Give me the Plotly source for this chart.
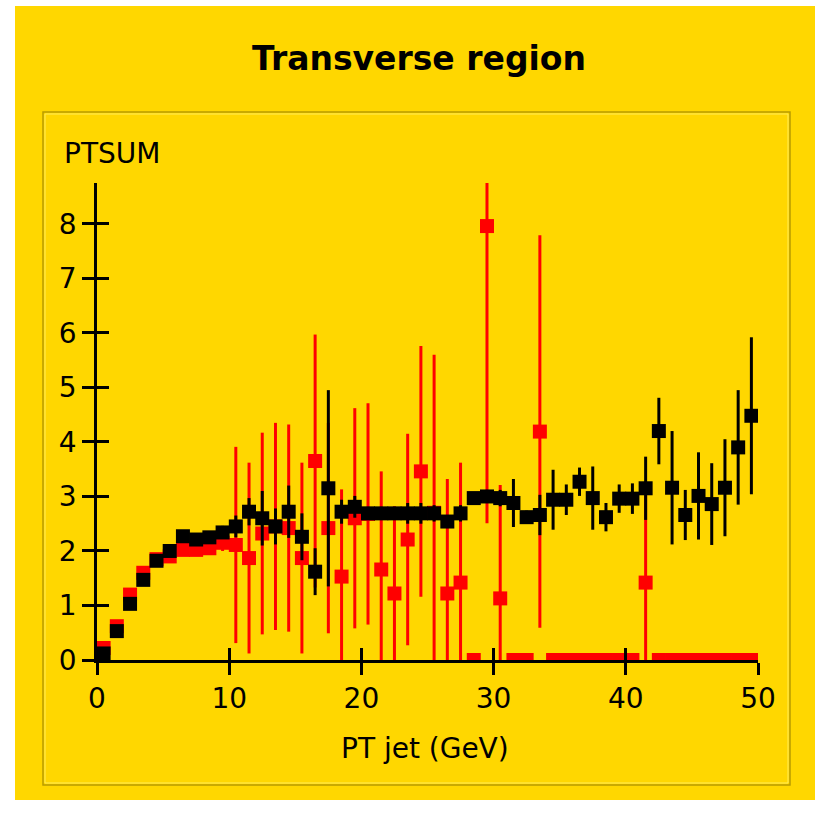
import plotly.graph_objects as go

# ---------------- data ----------------
pt_bins = [0.5, 1.5, 2.5, 3.5, 4.5, 5.5, 6.5, 7.5, 8.5, 9.5,
           10.5, 11.5, 12.5, 13.5, 14.5, 15.5, 16.5, 17.5, 18.5, 19.5,
           20.5, 21.5, 22.5, 23.5, 24.5, 25.5, 26.5, 27.5, 28.5, 29.5,
           30.5, 31.5, 32.5, 33.5, 34.5, 35.5, 36.5, 37.5, 38.5, 39.5,
           40.5, 41.5, 42.5, 43.5, 44.5, 45.5, 46.5, 47.5, 48.5, 49.5]

black_vals = [0.12, 0.53, 1.03, 1.47, 1.82, 2.00, 2.27, 2.21, 2.25, 2.34,
              2.45, 2.72, 2.60, 2.45, 2.72, 2.26, 1.62, 3.15, 2.72, 2.81,
              2.69, 2.69, 2.69, 2.69, 2.69, 2.69, 2.54, 2.69, 2.97, 3.00,
              2.97, 2.88, 2.62, 2.66, 2.94, 2.94, 3.27, 2.97, 2.62, 2.96,
              2.96, 3.15, 4.20, 3.16, 2.66, 3.01, 2.86, 3.16, 3.90, 4.48]

black_errs = [0.05, 0.05, 0.06, 0.06, 0.07, 0.08, 0.10, 0.10, 0.10, 0.12,
              0.20, 0.25, 0.50, 0.33, 0.48, 0.43, 0.43, 1.80, 0.22, 0.20,
              0.12, 0.12, 0.12, 0.19, 0.19, 0.15, 0.12, 0.15, 0.10, 0.12,
              0.15, 0.44, 0.12, 0.37, 0.55, 0.28, 0.26, 0.58, 0.26, 0.26,
              0.28, 0.58, 0.61, 1.04, 0.46, 0.80, 0.75, 0.89, 1.05, 1.44]

red_vals = [0.22, 0.62, 1.20, 1.60, 1.85, 1.90, 2.02, 2.02, 2.05, 2.15,
            2.11, 1.87, 2.32, 2.45, 2.42, 1.87, 3.65, 2.42, 1.53, 2.60,
            2.68, 1.66, 1.22, 2.21, 3.46, 2.70, 1.22, 1.42, 0.00, 7.96,
            1.13, 0.00, 0.00, 4.19, 0.00, 0.00, 0.00, 0.00, 0.00, 0.00,
            0.00, 1.42, 0.00, 0.00, 0.00, 0.00, 0.00, 0.00, 0.00, 0.00]

red_errs = [0.05, 0.06, 0.07, 0.08, 0.09, 0.10, 0.10, 0.10, 0.12, 0.15,
            1.80, 1.75, 1.85, 1.90, 1.90, 1.75, 2.32, 1.93, 1.60, 2.02,
            2.03, 1.80, 1.60, 1.94, 2.30, 2.90, 2.10, 2.20, 0.00, 5.45,
            2.08, 0.00, 0.00, 3.60, 0.00, 0.00, 0.00, 0.00, 0.00, 0.00,
            0.00, 1.60, 0.00, 0.00, 0.00, 0.00, 0.00, 0.00, 0.00, 0.00]

x_ticks = [0, 10, 20, 30, 40, 50]
y_ticks = [0, 1, 2, 3, 4, 5, 6, 7, 8]

title_text = "Transverse region"
x_title = "PT jet (GeV)"
y_title = "PTSUM"

# ---------------- geometry (pixels) ----------------
W, H = 820, 814
L, R, T, B = 97, 62, 183, 154
PW, PH = W - L - R, H - T - B


def px(xp):
    return (xp - L) / PW


def py(yp):
    return (H - B - yp) / PH


GOLD = "#FFD700"
FONT = "DejaVu Sans"

fig = go.Figure()

# red series on the base axes (drawn first, underneath)
fig.add_trace(go.Scatter(
    x=pt_bins, y=red_vals, mode="markers",
    marker=dict(symbol="square", size=14, color="#FF0000", line=dict(width=0)),
    error_y=dict(type="data", array=red_errs, visible=True, color="#FF0000",
                 thickness=3, width=0),
    cliponaxis=True, showlegend=False,
))
# black series on the overlaying axes (drawn on top)
fig.add_trace(go.Scatter(
    x=pt_bins, y=black_vals, mode="markers", xaxis="x2", yaxis="y2",
    marker=dict(symbol="square", size=14, color="#000000", line=dict(width=0)),
    error_y=dict(type="data", array=black_errs, visible=True, color="#000000",
                 thickness=3, width=0),
    cliponaxis=True, showlegend=False,
))

axis_common = dict(showgrid=False, zeroline=False, linecolor="black",
                   tickcolor="black", tickwidth=2.5, ticklen=12)

fig.update_layout(
    width=W, height=H,
    margin=dict(l=L, r=R, t=T, b=B, pad=0),
    paper_bgcolor="white",
    plot_bgcolor="rgba(0,0,0,0)",
    font=dict(family=FONT, size=28, color="black"),
    title=dict(text="<b>" + title_text + "</b>", x=419 / W, xref="container",
               y=1 - 58 / H, yref="container", xanchor="center", yanchor="middle",
               font=dict(family=FONT, size=33, color="black")),
    xaxis=dict(range=[0, 50], tickvals=x_ticks, ticks="outside", showline=True,
               linewidth=2.5, tickfont=dict(family=FONT, size=28, color="black"),
               ticklabelstandoff=0, **axis_common),
    yaxis=dict(range=[0, 8.75], tickvals=y_ticks, ticks="outside", showline=True,
               linewidth=2.5, tickfont=dict(family=FONT, size=28, color="black"),
               ticklabelstandoff=0, **axis_common),
    xaxis2=dict(range=[0, 50], tickvals=x_ticks, ticks="inside", overlaying="x",
                showline=False, showticklabels=False, **axis_common),
    yaxis2=dict(range=[0, 8.75], tickvals=y_ticks, ticks="inside", overlaying="y",
                showline=False, showticklabels=False, **axis_common),
    shapes=[
        dict(type="rect", xref="paper", yref="paper", layer="below",
             x0=px(15), x1=px(815), y0=py(800), y1=py(6),
             fillcolor=GOLD, line=dict(width=0)),
        dict(type="rect", xref="paper", yref="paper", layer="below",
             x0=px(43), x1=px(790), y0=py(785), y1=py(112),
             fillcolor="rgba(0,0,0,0)", line=dict(color="#B89C00", width=1.5)),
        dict(type="rect", xref="paper", yref="paper", layer="below",
             x0=px(45), x1=px(788), y0=py(783), y1=py(114),
             fillcolor="rgba(0,0,0,0)", line=dict(color="#FFEC5A", width=1)),
    ],
    annotations=[
        dict(text=y_title, xref="paper", yref="paper", x=px(62), y=py(153),
             xanchor="left", yanchor="middle", showarrow=False,
             font=dict(family=FONT, size=28, color="black")),
        dict(text=x_title, xref="paper", yref="paper", x=px(425), y=py(748),
             xanchor="center", yanchor="middle", showarrow=False,
             font=dict(family=FONT, size=28, color="black")),
    ],
)

fig.write_html("out.html")
